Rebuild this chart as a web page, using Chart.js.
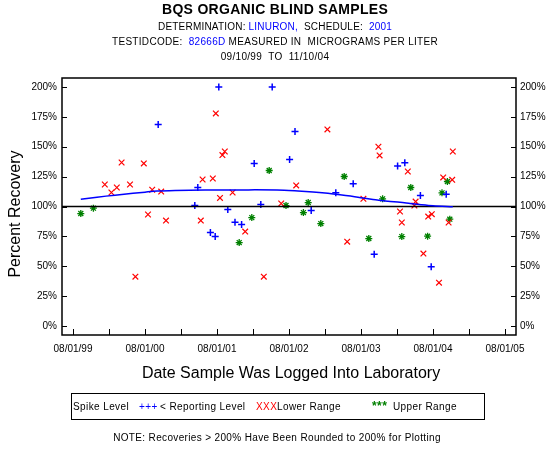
<!DOCTYPE html>
<html>
<head>
<meta charset="utf-8">
<script src="https://cdn.jsdelivr.net/npm/chart.js@4"></script>
<style>
  body { margin: 0; background: #fff; }
  #wrap { width: 550px; height: 450px; }
</style>
</head>
<body>
<div id="wrap"><canvas id="bqsChart" width="550" height="450"></canvas></div>
<script>
// x values are months since 08/01/99
const tickLabels = ['08/01/99', '08/01/00', '08/01/01', '08/01/02', '08/01/03', '08/01/04', '08/01/05'];
const xTicks = [0, 6, 12, 18, 24, 30, 36, 42, 48, 54, 60, 66, 72];
const yTicks = [0, 25, 50, 75, 100, 125, 150, 175, 200];

// < Reporting Level (blue +)
const reportX = [14.2, 20.3, 20.8, 22.9, 23.7, 24.3, 25.8, 27.0, 28.1, 30.2, 31.3, 33.2, 36.1, 37.0, 39.7, 43.8, 46.7, 50.2, 54.1, 55.3, 57.9, 59.7, 62.2];
const reportY = [168.7, 100.8, 115.9, 78.2, 74.8, 200, 97.4, 86.9, 84.9, 136.0, 101.6, 200, 139.4, 162.8, 96.6, 111.4, 119.0, 60.1, 133.8, 136.6, 109.2, 49.7, 110.3];

// Lower Range (red x)
const lowerX = [5.3, 6.4, 7.3, 8.1, 9.5, 10.4, 11.8, 12.5, 13.2, 14.7, 15.5, 21.3, 21.6, 23.3, 23.8, 24.5, 24.9, 25.3, 26.6, 28.7, 31.8, 34.7, 37.2, 42.4, 45.7, 48.4, 50.9, 51.1, 54.5, 54.8, 55.8, 56.9, 57.1, 58.4, 59.2, 59.8, 61.0, 61.7, 62.6, 63.2, 63.3];
const lowerY = [118.4, 111.7, 115.9, 136.8, 118.4, 41.3, 136.0, 93.3, 114.0, 112.5, 88.2, 88.2, 122.6, 123.4, 177.9, 107.2, 143.0, 146.0, 111.7, 79.0, 41.3, 102.5, 117.6, 164.5, 70.6, 106.4, 150.0, 142.7, 95.8, 86.6, 129.3, 100.8, 104.1, 60.6, 91.6, 93.6, 36.3, 124.3, 86.6, 122.3, 146.0];

// Upper Range (green *)
const upperX = [1.3, 3.4, 27.7, 29.8, 32.7, 35.5, 38.4, 39.2, 41.3, 45.2, 49.3, 51.6, 54.8, 56.3, 59.1, 61.5, 62.4, 62.8];
const upperY = [94.1, 98.6, 69.8, 90.7, 130.1, 100.8, 94.9, 103.3, 85.7, 125.1, 73.2, 106.4, 74.8, 115.9, 75.2, 111.4, 120.9, 89.4];

// smoothed recovery trend (blue line)
const trendX = [1.3, 4, 7, 10, 12, 14, 17, 22, 28, 34, 37.5, 40, 42, 44.5, 47.5, 50, 52.5, 54.5, 56.2, 58, 60, 63.3];
const trendY = [106, 107.8, 109.5, 111, 112, 112.9, 113.4, 113.8, 113.9, 113.8, 113, 112.2, 111.3, 109.8, 107.8, 105.8, 104.4, 103.5, 102.5, 101.5, 100.6, 99.8];

const refLevel = 100;
const xMin = -1.833, xMax = 73.833;
const yMin = -7.5, yMax = 207.5;

const pts = (xs, ys) => xs.map((x, i) => ({ x: x, y: ys[i] }));

const FONT = '"Liberation Sans", Arial, sans-serif';

// draws frame, inward tick marks and all the text around the plot
const decorPlugin = {
    id: 'decor',
    afterDraw(chart) {
        const c = chart.ctx;
        const a = chart.chartArea;
        const xs = chart.scales.x, yl = chart.scales.y;
        c.save();
        c.strokeStyle = '#000';
        c.lineWidth = 1.5;
        c.strokeRect(a.left, a.top, a.right - a.left, a.bottom - a.top);

        c.lineWidth = 1;
        c.beginPath();
        xTicks.forEach(v => {
            const px = Math.round(xs.getPixelForValue(v)) + 0.5;
            c.moveTo(px, a.bottom);
            c.lineTo(px, a.bottom - 6);
        });
        yTicks.forEach(v => {
            const py = Math.round(yl.getPixelForValue(v)) + 0.5;
            c.moveTo(a.left, py);
            c.lineTo(a.left + 5, py);
            c.moveTo(a.right, py);
            c.lineTo(a.right - 5, py);
        });
        c.stroke();

        // header lines
        c.textBaseline = 'middle';
        c.textAlign = 'left';
        const centered = (parts, y, font, sp) => {
            c.font = font;
            c.letterSpacing = sp + 'px';
            const w = parts.reduce((s, p) => s + c.measureText(p[0]).width, 0);
            let x = 275 - w / 2;
            parts.forEach(p => {
                c.fillStyle = p[1];
                c.fillText(p[0], x, y);
                x += c.measureText(p[0]).width;
            });
        };
        centered([['BQS ORGANIC BLIND SAMPLES', '#000']], 10, 'bold 14px ' + FONT, 0.3);
        centered([['DETERMINATION: ', '#000'], ['LINURON,', '#0000ff'], ['  SCHEDULE:  ', '#000'], ['2001', '#0000ff']], 27, '10px ' + FONT, 0.2);
        centered([['TESTIDCODE:  ', '#000'], ['82666D', '#0000ff'], [' MEASURED IN  MICROGRAMS PER LITER', '#000']], 42, '10px ' + FONT, 0.3);
        centered([['09/10/99  TO  11/10/04', '#000']], 57, '10px ' + FONT, 0.3);

        // axis titles
        c.letterSpacing = '0px';
        c.fillStyle = '#000';
        c.font = '16px ' + FONT;
        c.textAlign = 'center';
        c.fillText('Date Sample Was Logged Into Laboratory', 291, 374);
        c.save();
        c.translate(16, 214);
        c.rotate(-Math.PI / 2);
        c.fillText('Percent Recovery', 0, 0);
        c.restore();

        // legend box
        c.lineWidth = 1;
        c.strokeRect(71.5, 393.5, 413, 26);
        c.font = '10px ' + FONT;
        c.letterSpacing = '0.4px';
        c.textAlign = 'left';
        const leg = [
            ['Spike Level', '#000', 73, '10px '],
            ['+++', '#0000ff', 139, '10px '],
            ['< Reporting Level', '#000', 160, '10px '],
            ['XXX', '#ff0000', 256, '10px '],
            ['Lower Range', '#000', 277, '10px '],
            ['***', '#008000', 372, 'bold 12px '],
            ['Upper Range', '#000', 393, '10px ']
        ];
        leg.forEach(l => {
            c.font = l[3] + FONT;
            c.fillStyle = l[1];
            c.fillText(l[0], l[2], 407);
        });

        c.font = '10px ' + FONT;
        c.fillStyle = '#000';
        c.letterSpacing = '0.35px';
        c.textAlign = 'center';
        c.fillText('NOTE: Recoveries > 200% Have Been Rounded to 200% for Plotting', 277, 438);
        c.restore();
    }
};

const ctx = document.getElementById('bqsChart').getContext('2d');
const bqsChart = new Chart(ctx, {
    type: 'scatter',
    data: {
        datasets: [
            {
                label: 'trend',
                data: pts(trendX, trendY),
                showLine: true,
                borderColor: '#0000ff',
                borderWidth: 1.5,
                pointRadius: 0,
                tension: 0.3
            },
            {
                label: '100%',
                data: [{ x: xMin, y: refLevel }, { x: xMax, y: refLevel }],
                showLine: true,
                borderColor: '#000',
                borderWidth: 1.5,
                pointRadius: 0
            },
            {
                label: '< Reporting Level',
                data: pts(reportX, reportY),
                pointStyle: 'cross',
                pointRadius: 3.5,
                borderColor: '#0000ff',
                borderWidth: 1.5
            },
            {
                label: 'Lower Range',
                data: pts(lowerX, lowerY),
                pointStyle: 'crossRot',
                pointRadius: 4,
                borderColor: '#ff0000',
                borderWidth: 1.2
            },
            {
                label: 'Upper Range',
                data: pts(upperX, upperY),
                pointStyle: 'star',
                pointRadius: 3.5,
                borderColor: '#008000',
                borderWidth: 1.3
            }
        ]
    },
    options: {
        responsive: false,
        animation: false,
        layout: { padding: { top: 78, left: 0, right: 0, bottom: 0 } },
        plugins: {
            legend: { display: false },
            tooltip: { enabled: false }
        },
        scales: {
            x: {
                type: 'linear',
                min: xMin,
                max: xMax,
                afterBuildTicks: s => { s.ticks = xTicks.map(v => ({ value: v })); },
                afterFit: s => { s.height = 115; },
                grid: { display: false, drawTicks: false },
                border: { display: false },
                ticks: {
                    padding: 8,
                    maxRotation: 0,
                    autoSkip: false,
                    color: '#000',
                    font: { family: FONT, size: 10 },
                    callback: v => (v % 12 === 0 ? tickLabels[v / 12] : '')
                }
            },
            y: {
                position: 'left',
                min: yMin,
                max: yMax,
                afterBuildTicks: s => { s.ticks = yTicks.map(v => ({ value: v })); },
                afterFit: s => { s.width = 62; },
                grid: { display: false, drawTicks: false },
                border: { display: false },
                ticks: {
                    padding: 5,
                    color: '#000',
                    font: { family: FONT, size: 10 },
                    callback: v => v + '%'
                }
            },
            y2: {
                position: 'right',
                min: yMin,
                max: yMax,
                afterBuildTicks: s => { s.ticks = yTicks.map(v => ({ value: v })); },
                afterFit: s => { s.width = 34; },
                grid: { display: false, drawTicks: false },
                border: { display: false },
                ticks: {
                    padding: 4,
                    color: '#000',
                    font: { family: FONT, size: 10 },
                    callback: v => v + '%'
                }
            }
        }
    },
    plugins: [decorPlugin]
});
</script>
</body>
</html>
